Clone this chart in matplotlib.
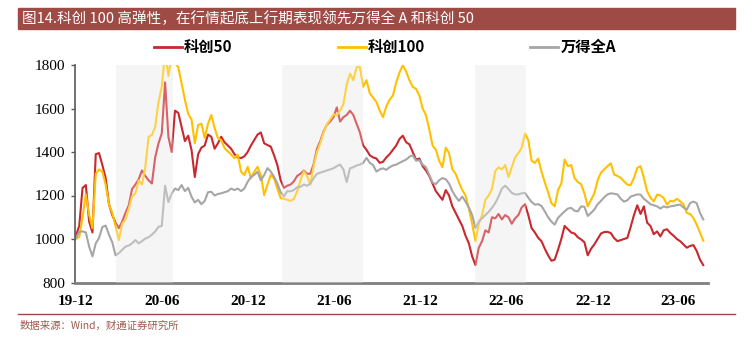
import pandas as pd
import matplotlib
matplotlib.use("Agg")
import matplotlib.pyplot as plt
from matplotlib.patches import Rectangle
from matplotlib.lines import Line2D

# weekly closes, base 2019-12-31 = 1000
weeks = pd.date_range("2019-12-31", periods=191, freq="7D")

kc50 = [
    1015, 1060, 1235, 1248, 1080, 1030, 1390, 1395, 1340, 1280,
    1160, 1110, 1075, 1050, 1080, 1120, 1155, 1230, 1250, 1275,
    1315, 1290, 1270, 1255, 1375, 1440, 1486, 1720, 1470, 1400,
    1590, 1580, 1515, 1450, 1475, 1410, 1285, 1390, 1420, 1430,
    1480, 1470, 1415, 1440, 1470, 1445, 1430, 1415, 1390, 1375,
    1372, 1380, 1400, 1430, 1455, 1480, 1490, 1440, 1432, 1425,
    1385, 1340, 1270, 1235, 1245, 1250, 1265, 1290, 1300, 1315,
    1300, 1300, 1345, 1415, 1450, 1495, 1525, 1540, 1560, 1605,
    1540, 1560, 1570, 1590, 1570, 1530, 1490, 1430, 1410, 1385,
    1375, 1370, 1350, 1355, 1375, 1390, 1410, 1430, 1460, 1475,
    1445, 1435, 1400, 1365, 1370, 1335, 1315, 1290, 1255, 1220,
    1200, 1180, 1225, 1200, 1150, 1120, 1090, 1060, 1015, 980,
    920, 880, 960, 990, 1040, 1030, 1100, 1095, 1115, 1090,
    1110, 1100, 1070, 1095, 1110, 1145, 1160, 1110, 1050, 1030,
    1005, 990, 955, 925, 900, 905, 950, 1000, 1060, 1045,
    1030, 1025, 1008, 998, 985, 925, 955, 975, 1000, 1025,
    1032, 1033, 1027, 1004, 990, 995, 1000, 1005, 1055, 1110,
    1155, 1115, 1150, 1075, 1060, 1022, 1035, 1012, 1040, 1045,
    1028, 1015, 1000, 990, 975, 960, 968, 972, 945, 905,
    880,
]

kc100 = [
    1000, 1010, 1100, 1205, 1110, 1050, 1300, 1320, 1310, 1250,
    1160, 1120, 1060, 995, 1070, 1090, 1140, 1195, 1210, 1270,
    1250, 1330, 1470, 1478, 1516, 1630, 1700, 1860, 1750, 1840,
    1810, 1790, 1716, 1640, 1575, 1550, 1440, 1524, 1530, 1464,
    1530, 1570, 1510, 1464, 1455, 1418, 1403, 1388, 1372, 1388,
    1309, 1294, 1332, 1279, 1309, 1332, 1294, 1202, 1250, 1294,
    1278, 1232, 1188, 1185, 1180, 1175, 1185, 1219, 1270, 1312,
    1290, 1250, 1335, 1400, 1440, 1490, 1527, 1550, 1573, 1570,
    1590, 1620, 1710, 1760, 1730, 1790, 1790, 1700, 1730, 1670,
    1650, 1630, 1590, 1560, 1610, 1640, 1660, 1720, 1765, 1800,
    1770, 1730, 1700, 1690, 1660, 1600, 1570, 1505, 1430, 1410,
    1360, 1330, 1420, 1395, 1320, 1300, 1260, 1225, 1200, 1140,
    1070, 990, 1070, 1110, 1180, 1200, 1230, 1312, 1330, 1320,
    1340, 1285, 1330, 1375, 1395, 1420, 1485, 1455, 1360, 1350,
    1370, 1310, 1260, 1215, 1165, 1150, 1225, 1255, 1365, 1335,
    1340, 1280, 1262, 1252, 1210, 1150, 1180, 1210, 1270, 1305,
    1320, 1335, 1348, 1296, 1290, 1281, 1265, 1250, 1248, 1281,
    1327, 1335, 1281, 1219, 1190, 1173, 1204, 1200, 1189, 1158,
    1175, 1173, 1185, 1173, 1160, 1120, 1115, 1097, 1066, 1030,
    992,
]

wind_a = [
    1005, 1033, 1035, 1030, 965, 920, 980, 1005, 1055, 1062,
    1020, 985, 925, 935, 950, 965, 970, 980, 995, 980,
    990, 1002, 1008, 1020, 1035, 1056, 1060, 1245, 1170, 1209,
    1232, 1225, 1248, 1220, 1235, 1195, 1168, 1180, 1160, 1175,
    1215, 1217, 1200, 1207, 1210, 1215, 1220, 1232, 1225, 1232,
    1220, 1232, 1263, 1285, 1295, 1309, 1270, 1294, 1326, 1310,
    1286, 1255, 1215, 1196, 1220, 1219, 1225, 1238, 1240, 1250,
    1245, 1255, 1280, 1300, 1305, 1310, 1315, 1320, 1325, 1335,
    1342, 1320, 1262, 1325, 1330, 1338, 1342, 1350, 1373, 1350,
    1340, 1310, 1320, 1325, 1318, 1330, 1338, 1342, 1350, 1358,
    1365, 1378, 1385, 1360, 1362, 1342, 1330, 1295, 1260, 1252,
    1270, 1280, 1275, 1255, 1220, 1195, 1175, 1195, 1172, 1145,
    1110, 1050, 1080, 1095, 1110, 1125, 1143, 1165, 1195, 1232,
    1245, 1230, 1212, 1205, 1205, 1210, 1212, 1190, 1170, 1158,
    1160, 1152, 1127, 1100, 1080, 1066, 1097, 1112, 1127, 1140,
    1143, 1130, 1127, 1150, 1148, 1106, 1120, 1135, 1160, 1175,
    1192, 1205, 1210, 1208, 1205, 1185, 1172, 1178, 1195, 1200,
    1205, 1204, 1185, 1173, 1160, 1155, 1150, 1140, 1150, 1145,
    1150, 1152, 1156, 1158, 1145, 1135, 1165, 1172, 1165, 1120,
    1090,
]

series_names = ["科创50", "科创100", "万得全A"]
series_colors = ["#C8282E", "#FFC000", "#A6A6A6"]

# market bottom -> upswing periods
upswings = [("2020-03-24", "2020-07-23"),
            ("2021-03-12", "2021-08-31"),
            ("2022-04-26", "2022-08-12")]

tick_dates = ["2019-12-31", "2020-06-30", "2020-12-31", "2021-06-30",
              "2021-12-31", "2022-06-30", "2022-12-31", "2023-06-30"]
tick_labels = ["19-12", "20-06", "20-12", "21-06", "21-12", "22-06", "22-12", "23-06"]

title = "图14.科创 100 高弹性，在行情起底上行期表现领先万得全 A 和科创 50"
source = "数据来源：Wind，财通证券研究所"
brand = "#9E4A45"
cjk = ["Noto Sans CJK SC", "DejaVu Sans"]

fig = plt.figure(figsize=(7.52, 3.43), dpi=100)
ax = fig.add_axes([75 / 752, 1 - 282.5 / 343, 633 / 752, 217.5 / 343])

for start, end in upswings:
    ax.axvspan(pd.Timestamp(start), pd.Timestamp(end), color="#F2F2F2", lw=0, zorder=0)

for vals, name, col in zip([kc50, kc100, wind_a], series_names, series_colors):
    ax.plot(weeks, vals, color=col, lw=1.5, label=name, zorder=2)

# light veil so lines inside the periods look washed out
for start, end in upswings:
    ax.axvspan(pd.Timestamp(start), pd.Timestamp(end), color="white", alpha=0.28, lw=0, zorder=3)

ax.set_xlim(pd.Timestamp("2019-12-29"), pd.Timestamp("2023-09-01"))
ax.set_ylim(800, 1800)
ax.set_yticks(range(800, 1801, 200))
ax.set_xticks([pd.Timestamp(d) for d in tick_dates])
ax.set_xticklabels(tick_labels)

for lab in ax.get_yticklabels():
    lab.set_fontfamily("Liberation Serif")
    lab.set_fontsize(11)
for lab in ax.get_xticklabels():
    lab.set_fontfamily("Liberation Serif")
    lab.set_fontsize(11)
    lab.set_fontweight("bold")

ax.tick_params(axis="y", length=3, width=1, color="#595959", pad=4)
ax.tick_params(axis="x", length=0, pad=9)
for side in ["top", "right"]:
    ax.spines[side].set_visible(False)
ax.spines["left"].set_color("#595959")
ax.spines["left"].set_linewidth(1.2)
ax.spines["bottom"].set_color("#808080")
ax.spines["bottom"].set_linewidth(2)

handles = [Line2D([], [], color=c, lw=2) for c in series_colors]
fig.legend(handles, series_names, loc="center", bbox_to_anchor=(0.512, 0.862),
           ncol=3, frameon=False, handlelength=1.8, handletextpad=0.15,
           columnspacing=6.9,
           prop={"family": cjk, "weight": "bold", "size": 11})

# title bar
fig.patches.append(Rectangle((18 / 752, 1 - 29 / 343), 717 / 752, 21 / 343,
                             transform=fig.transFigure, color=brand, zorder=0))
fig.text(22 / 752, 1 - 18.5 / 343, title, color="white", fontsize=10.5,
         family=cjk, va="center", ha="left")

# footer rule and source
fig.add_artist(Line2D([18 / 752, 735 / 752], [1 - 314 / 343, 1 - 314 / 343],
                      transform=fig.transFigure, color=brand, lw=1))
fig.text(20 / 752, 1 - 326 / 343, source, color="#9E5A4F", fontsize=7.5,
         family=cjk, va="center", ha="left")

fig.savefig("out.png", dpi=100)
